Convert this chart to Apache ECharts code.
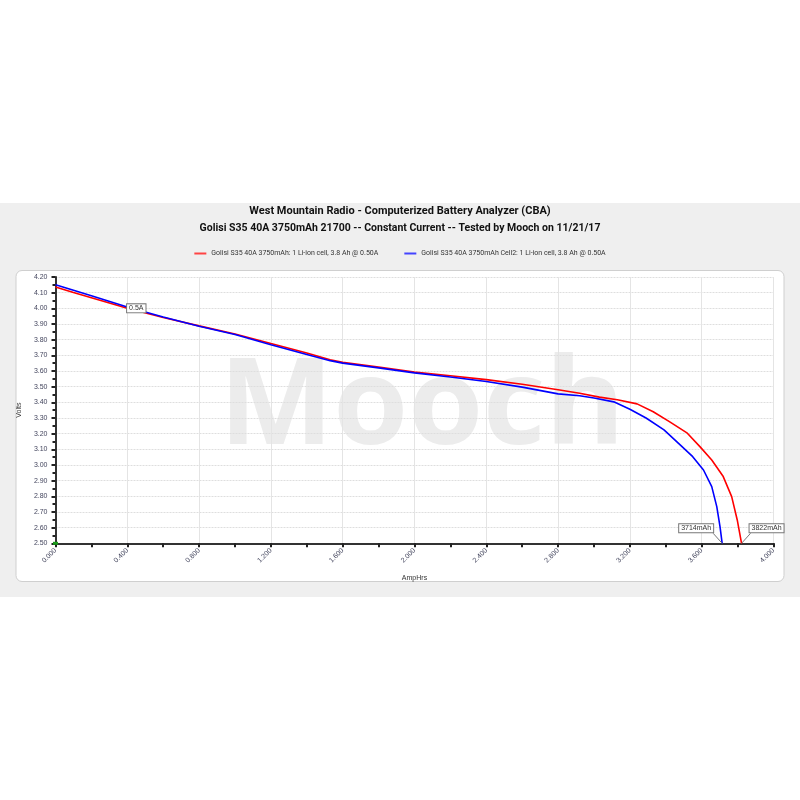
<!DOCTYPE html>
<html>
<head>
<meta charset="utf-8">
<script src="https://cdn.jsdelivr.net/npm/echarts@6/dist/echarts.min.js"></script>
<style>html,body{margin:0;padding:0;background:#fff;}#c{width:800px;height:800px;}</style>
</head>
<body>
<div id="c"></div>
<script>
// Data
const redAh    = [0.00, 0.10, 0.20, 0.40, 0.60, 0.80, 1.00, 1.20, 1.40, 1.53, 1.60, 1.80, 2.00, 2.20, 2.40, 2.60, 2.80, 2.92, 3.03, 3.13, 3.24, 3.33, 3.42, 3.52, 3.59, 3.656, 3.72, 3.767, 3.798, 3.822];
const redV     = [4.136, 4.101, 4.068, 4.000, 3.942, 3.888, 3.836, 3.775, 3.715, 3.672, 3.655, 3.625, 3.593, 3.570, 3.545, 3.515, 3.480, 3.458, 3.433, 3.416, 3.390, 3.340, 3.277, 3.203, 3.117, 3.032, 2.926, 2.798, 2.649, 2.500];
const blueAh   = [0.00, 0.10, 0.20, 0.40, 0.60, 0.80, 1.00, 1.20, 1.40, 1.53, 1.60, 1.80, 2.00, 2.20, 2.40, 2.60, 2.80, 2.92, 3.00, 3.11, 3.20, 3.29, 3.39, 3.48, 3.55, 3.61, 3.656, 3.684, 3.702, 3.714];
const blueV    = [4.150, 4.115, 4.080, 4.008, 3.945, 3.886, 3.833, 3.767, 3.705, 3.666, 3.650, 3.620, 3.588, 3.562, 3.533, 3.497, 3.454, 3.442, 3.428, 3.403, 3.356, 3.300, 3.224, 3.128, 3.053, 2.968, 2.862, 2.734, 2.606, 2.500];
const seriesNames = ['Golisi S35 40A 3750mAh: 1 Li-ion cell, 3.8 Ah @ 0.50A', 'Golisi S35 40A 3750mAh Cell2: 1 Li-ion cell, 3.8 Ah @ 0.50A'];
const titleText = 'West Mountain Radio - Computerized Battery Analyzer (CBA)';
const subtitleText = 'Golisi S35 40A 3750mAh 21700 -- Constant Current -- Tested by Mooch on 11/21/17';
const watermarkText = 'Mooch';
const rateLabel = '0.5A';
const rateIndex = 3;
const capLabels = ['3822mAh', '3714mAh'];

const pairs = (xs, ys) => xs.map((x, i) => [x, ys[i]]);
const boxLabel = {
  show: true, position: 'inside', fontSize: 7, color: '#333', fontFamily: 'Liberation Sans, Arial',
  backgroundColor: '#fff', borderColor: '#777', borderWidth: 1, padding: [1, 2, 0, 2]
};
const redEnd = [redAh[redAh.length - 1], redV[redV.length - 1]];
const blueEnd = [blueAh[blueAh.length - 1], blueV[blueV.length - 1]];
const redOffset = [25, -15];
const blueOffset = [-26, -15];

const chart = echarts.init(document.getElementById('c'), null, {renderer: 'canvas'});
const baseGraphic = [
  {type: 'rect', z: -20, silent: true, shape: {x: 0, y: 203, width: 800, height: 394}, style: {fill: '#efefef'}},
  {type: 'rect', z: -19, silent: true, shape: {x: 16, y: 270.5, width: 768, height: 311, r: 6}, style: {fill: '#fff', stroke: '#cfcfcf', lineWidth: 1}},
  {type: 'text', z: -18, silent: true, style: {x: 422, y: 410, text: watermarkText, align: 'center', verticalAlign: 'middle', fontSize: 121, fontWeight: 'bold', fontFamily: 'Open Sans, Roboto, Liberation Sans, Arial', fill: '#ececec'}}
];
chart.setOption({
  backgroundColor: '#fff',
  animation: false,
  graphic: baseGraphic,
  title: [
    {text: titleText, left: 'center', top: 201, textStyle: {fontSize: 11, fontWeight: 'bold', color: '#111', fontFamily: 'Liberation Sans Narrow, Roboto, Arial'}},
    {text: subtitleText, left: 'center', top: 218, textStyle: {fontSize: 10.5, fontWeight: 'bold', color: '#111', fontFamily: 'Liberation Sans Narrow, Roboto, Arial'}}
  ],
  legend: {
    top: 245, left: 'center', itemWidth: 12, itemHeight: 2, itemGap: 26,
    icon: 'rect',
    textStyle: {fontSize: 7, color: '#333', fontFamily: 'Liberation Sans Narrow, Roboto, Arial'},
    data: seriesNames
  },
  grid: {left: 55.5, right: 26.5, top: 277, bottom: 256.7, containLabel: false},
  xAxis: {
    type: 'value', min: 0, max: 4, interval: 0.4,
    name: 'AmpHrs', nameLocation: 'middle', nameGap: 31,
    nameTextStyle: {fontSize: 7, color: '#333', fontFamily: 'Liberation Sans, Arial'},
    axisLine: {show: true, lineStyle: {color: '#333', width: 2}},
    axisTick: {show: true, inside: false, length: 4, lineStyle: {color: '#222', width: 2}},
    minorTick: {show: true, splitNumber: 2, length: 4, lineStyle: {color: '#222', width: 2}},
    axisLabel: {fontSize: 7, color: '#44465e', rotate: 45, margin: 6, formatter: v => v.toFixed(3), fontFamily: 'Liberation Sans, Arial'},
    splitLine: {show: true, lineStyle: {color: '#e4e4e4', width: 1}}
  },
  yAxis: {
    type: 'value', min: 2.5, max: 4.2, interval: 0.1,
    name: 'Volts', nameLocation: 'middle', nameGap: 29,
    nameTextStyle: {fontSize: 7, color: '#333', fontFamily: 'Liberation Sans, Arial'},
    axisLine: {show: true, lineStyle: {color: '#333', width: 2}},
    axisTick: {show: true, length: 4, lineStyle: {color: '#222', width: 2}},
    minorTick: {show: true, splitNumber: 2, length: 3, lineStyle: {color: '#222', width: 2}},
    axisLabel: {fontSize: 7, color: '#44465e', margin: 8, formatter: v => v.toFixed(2), fontFamily: 'Liberation Sans, Arial'},
    splitLine: {show: true, lineStyle: {color: '#dedede', width: 1, type: [2, 1]}}
  },
  series: [
    {
      name: seriesNames[0], type: 'line', data: pairs(redAh, redV), showSymbol: false, symbol: 'none',
      lineStyle: {color: '#ff0000', width: 1.6}, itemStyle: {color: '#ff4444'},
      markPoint: {
        symbol: 'circle', symbolSize: 0, silent: true,
        data: [
          {coord: [redAh[rateIndex], redV[rateIndex]], label: Object.assign({}, boxLabel, {formatter: rateLabel, offset: [9, 0]})},
          {coord: redEnd, label: Object.assign({}, boxLabel, {formatter: capLabels[0], offset: redOffset})},
          {coord: [0, 2.5], symbol: 'rect', symbolSize: [5, 3], itemStyle: {color: '#1a9a1a'}, label: {show: false}}
        ]
      }
    },
    {
      name: seriesNames[1], type: 'line', data: pairs(blueAh, blueV), showSymbol: false, symbol: 'none',
      lineStyle: {color: '#0000ff', width: 1.6}, itemStyle: {color: '#4444ff'},
      markPoint: {
        symbol: 'circle', symbolSize: 0, silent: true,
        data: [
          {coord: blueEnd, label: Object.assign({}, boxLabel, {formatter: capLabels[1], offset: blueOffset})}
        ]
      }
    }
  ]
});
// leader lines from the end-point labels to the end points, positioned via the chart's scales
const rp = chart.convertToPixel({gridIndex: 0}, redEnd);
const bp = chart.convertToPixel({gridIndex: 0}, blueEnd);
chart.setOption({
  graphic: baseGraphic.concat([
    {type: 'line', silent: true, z: 5, shape: {x1: rp[0], y1: rp[1], x2: rp[0] + redOffset[0] - 16, y2: rp[1] + redOffset[1] + 5}, style: {stroke: '#777', lineWidth: 1}},
    {type: 'line', silent: true, z: 5, shape: {x1: bp[0], y1: bp[1], x2: bp[0] + blueOffset[0] + 17, y2: bp[1] + blueOffset[1] + 5}, style: {stroke: '#777', lineWidth: 1}}
  ])
});
</script>
</body>
</html>
